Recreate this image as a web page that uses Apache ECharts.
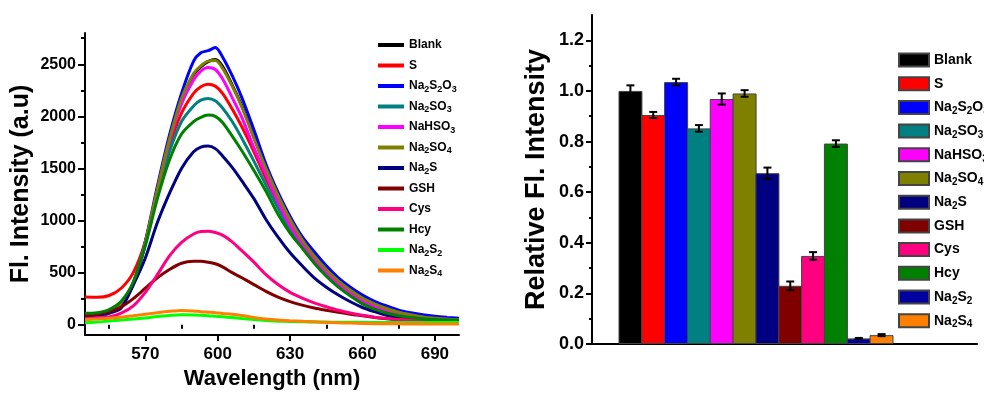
<!DOCTYPE html>
<html>
<head>
<meta charset="utf-8">
<script src="https://cdn.jsdelivr.net/npm/echarts@6/dist/echarts.min.js"></script>
<style>
    html, body { margin: 0; padding: 0; background: #fff; }
    #chart { width: 984px; height: 395px; }
</style>
</head>
<body>
<div id="chart"></div>
<script>
// 光谱数据 (nm)
var wavelength = [545, 550, 555, 560, 565, 570, 575, 580, 585, 590, 593, 596, 599, 602, 606, 610, 615, 620, 625, 630, 635, 640, 645, 650, 655, 660, 665, 670, 675, 680, 685, 690, 695, 700];

var blank    = [85, 90, 120, 200, 390, 780, 1290, 1780, 2170, 2400, 2475, 2525, 2545, 2480, 2300, 2100, 1800, 1505, 1245, 1015, 820, 662, 532, 422, 332, 257, 200, 155, 120, 95, 75, 62, 53, 48];
var sulfur   = [265, 263, 280, 350, 500, 800, 1280, 1720, 2030, 2220, 2285, 2308, 2290, 2220, 2070, 1900, 1660, 1400, 1170, 950, 770, 620, 495, 385, 295, 225, 170, 130, 100, 80, 65, 56, 50, 46];
var na2s2o3  = [95, 100, 130, 210, 400, 800, 1330, 1820, 2220, 2530, 2610, 2630, 2660, 2570, 2390, 2180, 1870, 1540, 1270, 1040, 845, 700, 565, 450, 360, 285, 225, 180, 140, 115, 95, 80, 70, 62];
var na2so3   = [100, 105, 135, 215, 400, 770, 1250, 1660, 1950, 2100, 2155, 2172, 2150, 2080, 1950, 1790, 1570, 1340, 1120, 910, 750, 600, 475, 370, 285, 210, 155, 115, 88, 70, 58, 52, 48, 45];
var nahso3   = [70, 75, 110, 200, 390, 780, 1290, 1760, 2120, 2350, 2435, 2470, 2450, 2360, 2180, 1990, 1700, 1440, 1180, 950, 780, 630, 505, 395, 305, 230, 175, 135, 105, 85, 70, 60, 52, 48];
var na2so4   = [95, 100, 130, 210, 400, 790, 1300, 1780, 2170, 2410, 2485, 2530, 2535, 2460, 2290, 2090, 1790, 1500, 1240, 1010, 815, 660, 530, 420, 330, 255, 200, 155, 120, 95, 75, 62, 53, 48];
var na2s     = [90, 95, 110, 160, 380, 640, 980, 1260, 1500, 1660, 1705, 1715, 1690, 1620, 1510, 1380, 1210, 1010, 840, 690, 565, 450, 360, 285, 220, 165, 125, 90, 68, 55, 45, 40, 37, 35];
var gsh      = [90, 100, 125, 170, 250, 350, 450, 530, 590, 608, 608, 600, 585, 555, 500, 450, 385, 320, 265, 222, 188, 160, 138, 118, 100, 85, 70, 58, 50, 45, 42, 40, 38, 36];
var cys      = [60, 62, 75, 110, 180, 310, 480, 660, 790, 870, 895, 898, 885, 860, 795, 710, 600, 480, 385, 310, 255, 210, 172, 138, 112, 90, 72, 60, 50, 45, 42, 40, 39, 38];
var hcy      = [110, 115, 145, 225, 410, 760, 1210, 1580, 1830, 1950, 1990, 2012, 2000, 1940, 1810, 1670, 1480, 1280, 1060, 880, 735, 590, 465, 360, 275, 200, 150, 112, 86, 68, 57, 50, 46, 44];
var na2s2    = [18, 25, 35, 45, 55, 65, 78, 88, 95, 93, 90, 86, 80, 75, 68, 60, 50, 40, 34, 30, 28, 26, 25, 24, 23, 22, 21, 21, 20, 20, 20, 20, 20, 20];
var na2s4    = [48, 55, 62, 72, 85, 100, 115, 128, 137, 132, 125, 120, 115, 108, 100, 88, 70, 55, 45, 38, 32, 27, 22, 18, 15, 12, 10, 9, 8, 7, 6, 6, 6, 6];

var lineNames  = ['Blank', 'S', 'Na2S2O3', 'Na2SO3', 'NaHSO3', 'Na2SO4', 'Na2S', 'GSH', 'Cys', 'Hcy', 'Na2S2', 'Na2S4'];
var lineData   = [blank, sulfur, na2s2o3, na2so3, nahso3, na2so4, na2s, gsh, cys, hcy, na2s2, na2s4];
var lineColors = ['#000000', '#ff0000', '#0000ff', '#008080', '#ff00ff', '#808000', '#000080', '#800000', '#ff0080', '#008000', '#00ff00', '#ff8000'];

// 相对荧光强度
var barNames  = ['Blank', 'S', 'Na2S2O3', 'Na2SO3', 'NaHSO3', 'Na2SO4', 'Na2S', 'GSH', 'Cys', 'Hcy', 'Na2S2', 'Na2S4'];
var barValues = [1.0, 0.905, 1.035, 0.852, 0.968, 0.99, 0.675, 0.23, 0.348, 0.792, 0.022, 0.035];
var barErrors = [0.022, 0.012, 0.013, 0.013, 0.022, 0.013, 0.022, 0.017, 0.015, 0.013, 0.002, 0.004];
var barColors = ['#000000', '#ff0000', '#0000ff', '#008080', '#ff00ff', '#808000', '#000080', '#800000', '#ff0080', '#008000', '#0000a0', '#ff8000'];

// 刻度
var specXTicks  = [570, 600, 630, 660, 690];
var specXMinor  = [555, 585, 615, 645, 675];
var specYTicks  = [0, 500, 1000, 1500, 2000, 2500];
var specYMinor  = [250, 750, 1250, 1750, 2250, 2750];
var relYTicks   = [0, 0.2, 0.4, 0.6, 0.8, 1.0, 1.2];
var relYMinor   = [0.1, 0.3, 0.5, 0.7, 0.9, 1.1];

var FONT = '"Liberation Sans", Arial, sans-serif';

// 数字变下标
function subName(name) {
    return name.trim().replace(/(\d)/g, '{s|$1}');
}

var chart = echarts.init(document.getElementById('chart'));

var series = [];
for (var i = 0; i < lineNames.length; i++) {
    var pts = [];
    for (var k = 0; k < wavelength.length; k++) {
        pts.push([wavelength[k], lineData[i][k]]);
    }
    series.push({
        name: lineNames[i],
        type: 'line',
        xAxisIndex: 0,
        yAxisIndex: 0,
        data: pts,
        smooth: 0.3,
        symbol: 'none',
        showSymbol: false,
        color: lineColors[i],
        itemStyle: { color: lineColors[i] },
        lineStyle: { color: lineColors[i], width: 3 }
    });
}

// 柱子名后加空格，避免和左图图例重名
var barSeriesNames = [];
for (var j = 0; j < barNames.length; j++) {
    var name = barNames[j] + ' ';
    barSeriesNames.push(name);
    series.push({
        name: name,
        type: 'bar',
        xAxisIndex: 3,
        yAxisIndex: 4,
        barWidth: 24,
        barGap: '-100%',
        barCategoryGap: '0%',
        data: barNames.map(function (n, idx) { return idx === j ? barValues[j] : '-'; }),
        itemStyle: { color: barColors[j], borderColor: '#444', borderWidth: 1 }
    });
}

// 误差棒
series.push({
    name: 'error',
    type: 'custom',
    xAxisIndex: 3,
    yAxisIndex: 4,
    z: 10,
    data: barValues.map(function (v, idx) { return [idx, v - barErrors[idx], v + barErrors[idx]]; }),
    renderItem: function (params, api) {
        var lo = api.coord([api.value(0), api.value(1)]);
        var hi = api.coord([api.value(0), api.value(2)]);
        var w = 4;
        var st = { stroke: '#000', lineWidth: 2 };
        return {
            type: 'group',
            children: [
                { type: 'line', shape: { x1: hi[0], y1: hi[1], x2: lo[0], y2: lo[1] }, style: st },
                { type: 'line', shape: { x1: hi[0] - w, y1: hi[1], x2: hi[0] + w, y2: hi[1] }, style: st },
                { type: 'line', shape: { x1: lo[0] - w, y1: lo[1], x2: lo[0] + w, y2: lo[1] }, style: st }
            ]
        };
    }
});

var axisLine = { show: true, onZero: false, lineStyle: { color: '#000', width: 2 } };
var labelStyle = { color: '#000', fontFamily: FONT, fontWeight: 'bold' };

var option = {
    animation: false,
    backgroundColor: '#fff',
    grid: [
        { left: 85, top: 33, width: 374, height: 305 },
        { left: 592, top: 15, width: 385, height: 329 },
        { left: 619, top: 15, width: 274, height: 329 }
    ],
    legend: [{
        orient: 'vertical',
        left: 378,
        top: 37,
        padding: 0,
        itemGap: 4.5,
        itemWidth: 26,
        itemHeight: 4,
        icon: 'rect',
        data: lineNames,
        formatter: subName,
        textStyle: {
            color: '#000', fontFamily: FONT, fontWeight: 'bold', fontSize: 12, lineHeight: 16,
            rich: { s: { color: '#000', fontFamily: FONT, fontWeight: 'bold', fontSize: 9, lineHeight: 8, verticalAlign: 'bottom' } }
        }
    }, {
        orient: 'vertical',
        left: 898,
        top: 51,
        padding: 0,
        itemGap: 5.7,
        itemWidth: 30,
        itemHeight: 13,
        icon: 'rect',
        data: barSeriesNames,
        formatter: subName,
        textStyle: {
            color: '#000', fontFamily: FONT, fontWeight: 'bold', fontSize: 14, lineHeight: 18,
            rich: { s: { color: '#000', fontFamily: FONT, fontWeight: 'bold', fontSize: 10, lineHeight: 9, verticalAlign: 'bottom' } }
        }
    }],
    xAxis: [{
        gridIndex: 0, type: 'value', position: 'bottom', min: 545, max: 700,
        name: 'Wavelength (nm)', nameLocation: 'middle', nameGap: 31,
        nameTextStyle: { color: '#000', fontFamily: FONT, fontWeight: 'bold', fontSize: 22 },
        axisLine: axisLine,
        axisTick: { show: true, customValues: specXTicks, length: 6, lineStyle: { color: '#000', width: 2 } },
        axisLabel: Object.assign({ customValues: specXTicks, fontSize: 17, margin: 11 }, labelStyle),
        splitLine: { show: false }
    }, {
        gridIndex: 0, type: 'value', position: 'bottom', min: 545, max: 700,
        axisLine: { show: false },
        axisTick: { show: true, customValues: specXMinor, length: 4, lineStyle: { color: '#000', width: 2 } },
        axisLabel: { show: false },
        splitLine: { show: false }
    }, {
        gridIndex: 1, type: 'value', position: 'bottom', min: 0, max: 1,
        axisLine: axisLine,
        axisTick: { show: false },
        axisLabel: { show: false },
        splitLine: { show: false }
    }, {
        gridIndex: 2, type: 'category', data: barNames, show: false
    }],
    yAxis: [{
        gridIndex: 0, type: 'value', position: 'left', min: -100, max: 2800,
        name: 'Fl. Intensity (a.u)', nameLocation: 'middle', nameGap: 51,
        nameTextStyle: { color: '#000', fontFamily: FONT, fontWeight: 'bold', fontSize: 25 },
        axisLine: axisLine,
        axisTick: { show: true, customValues: specYTicks, length: 7, lineStyle: { color: '#000', width: 2 } },
        axisLabel: Object.assign({
            customValues: specYTicks, fontSize: 16, margin: 9,
            formatter: function (v) { return String(v); }
        }, labelStyle),
        splitLine: { show: false }
    }, {
        gridIndex: 0, type: 'value', position: 'left', min: -100, max: 2800,
        axisLine: { show: false },
        axisTick: { show: true, customValues: specYMinor, length: 4, lineStyle: { color: '#000', width: 2 } },
        axisLabel: { show: false },
        splitLine: { show: false }
    }, {
        gridIndex: 1, type: 'value', position: 'left', min: 0, max: 1.3,
        name: 'Relative Fl. Intensity', nameLocation: 'middle', nameGap: 42,
        nameTextStyle: { color: '#000', fontFamily: FONT, fontWeight: 'bold', fontSize: 27 },
        axisLine: axisLine,
        axisTick: { show: true, customValues: relYTicks, length: 6, lineStyle: { color: '#000', width: 2 } },
        axisLabel: Object.assign({
            customValues: relYTicks, fontSize: 18, margin: 8,
            formatter: function (v) { return Number(v).toFixed(1); }
        }, labelStyle),
        splitLine: { show: false }
    }, {
        gridIndex: 1, type: 'value', position: 'left', min: 0, max: 1.3,
        axisLine: { show: false },
        axisTick: { show: true, customValues: relYMinor, length: 3, lineStyle: { color: '#000', width: 2 } },
        axisLabel: { show: false },
        splitLine: { show: false }
    }, {
        gridIndex: 2, type: 'value', min: 0, max: 1.3, show: false
    }],
    series: series
};

chart.setOption(option);
</script>
</body>
</html>
